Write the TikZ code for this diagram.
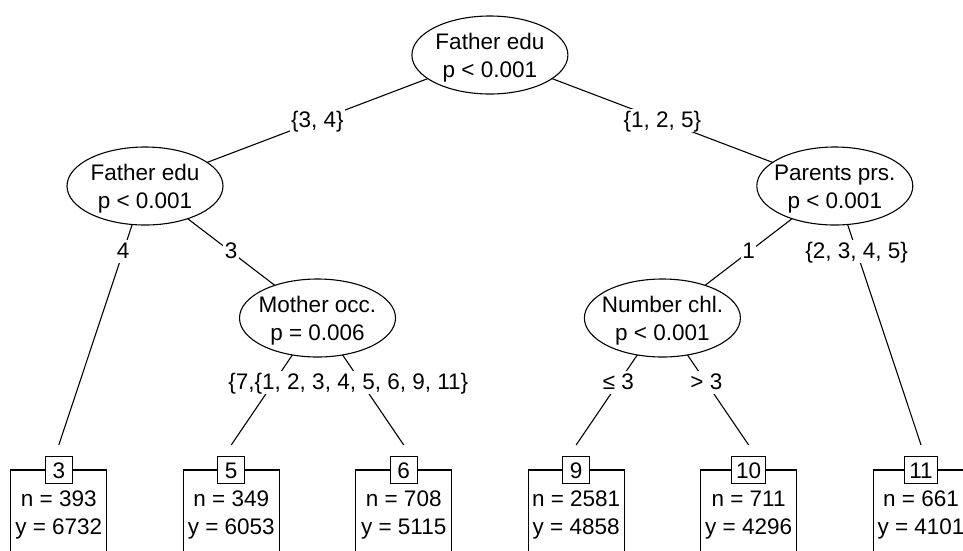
\documentclass[tikz,border=0pt]{standalone}
\usepackage{fontspec}
\setmainfont{Liberation Sans}
\usetikzlibrary{shapes.geometric,backgrounds}

\begin{document}
\begin{tikzpicture}[x=1pt,y=-1pt,
  every node/.style={font=\fontsize{22.5}{28}\selectfont},
  innernode/.style={ellipse, draw, line width=1.1pt, fill=white,
    minimum width=156pt, minimum height=78pt, inner sep=0pt},
  txtline/.style={anchor=base, inner sep=0pt},
  elabel/.style={fill=white, inner xsep=1.5pt, inner ysep=0.5pt,
    text height=17.5pt, text depth=4.5pt},
  idbox/.style={draw, fill=white, line width=1.1pt, minimum width=27pt,
    minimum height=27pt, inner xsep=4.5pt, inner ysep=0pt,
    text height=16pt, text depth=0pt},
  panel/.style={draw, line width=1.1pt, minimum width=96pt,
    minimum height=180pt, inner sep=0pt},
  branch/.style={draw, line width=1.1pt}]
\useasboundingbox (0,0) rectangle (963,550);
\clip (0,0) rectangle (963,550);

% inner nodes
\node[innernode] (n1) at (489.9,55) {};
\node[txtline] (n1a) at (489.9,49) {Father edu};
\node[txtline] (n1b) at (489.9,77) {p < 0.001};

\node[innernode] (n2) at (145,186) {};
\node[txtline] (n2a) at (145,180) {Father edu};
\node[txtline] (n2b) at (145,208) {p < 0.001};

\node[innernode] (n7) at (834.8,186) {};
\node[txtline] (n7a) at (834.8,180) {Parents prs.};
\node[txtline] (n7b) at (834.8,208) {p < 0.001};

\node[innernode] (n4) at (317.5,318) {};
\node[txtline] (n4a) at (317.5,312) {Mother occ.};
\node[txtline] (n4b) at (317.5,340) {p = 0.006};

\node[innernode] (n8) at (662.4,318) {};
\node[txtline] (n8a) at (662.4,312) {Number chl.};
\node[txtline] (n8b) at (662.4,340) {p < 0.001};

% terminal panels, id boxes and summaries
\foreach \id/\x/\n/\y in {3/58.8/393/6732, 5/231.25/349/6053, 6/403.7/708/5115,
    9/576.15/2581/4858, 10/748.6/711/4296, 11/921.05/661/4101} {
  \node[panel] (p\id) at (\x,560) {};
  \node[idbox] (t\id) at (\x,470) {\id};
  \node[txtline] (tn\id) at (\x,506) {n = \n};
  \node[txtline] (ty\id) at (\x,534) {y = \y};
}

% branches
\begin{pgfonlayer}{background}
  \draw[branch] (n1.center) -- (n2.center);
  \draw[branch] (n1.center) -- (n7.center);
  \draw[branch] (n2.center) -- ([yshift=11pt]t3.north);
  \draw[branch] (n2.center) -- (n4.center);
  \draw[branch] (n4.center) -- ([yshift=11pt]t5.north);
  \draw[branch] (n4.center) -- ([yshift=11pt]t6.north);
  \draw[branch] (n7.center) -- (n8.center);
  \draw[branch] (n7.center) -- ([yshift=11pt]t11.north);
  \draw[branch] (n8.center) -- ([yshift=11pt]t9.north);
  \draw[branch] (n8.center) -- ([yshift=11pt]t10.north);
\end{pgfonlayer}

% branch labels
\path (n1.center) -- (n2.center) node[elabel,pos=0.5] (l12) {\{3, 4\}};
\path (n1.center) -- (n7.center) node[elabel,pos=0.5] (l17) {\{1, 2, 5\}};
\path (n2.center) -- ([yshift=11pt]t3.north) node[elabel,pos=0.254] (l23) {4};
\path (n2.center) -- (n4.center) node[elabel,pos=0.5] (l24) {3};
\path (n7.center) -- (n8.center) node[elabel,pos=0.5] (l78) {1};
\path (n7.center) -- ([yshift=11pt]t11.north) node[elabel,pos=0.254] (l711) {\{2, 3, 4, 5\}};
\path (n4.center) -- ([yshift=11pt]t5.north) node[elabel,pos=0.51] (l45) {\{7, 8, 10\}};
\path (n4.center) -- ([yshift=11pt]t6.north) node[elabel,pos=0.51] (l46) {\{1, 2, 3, 4, 5, 6, 9, 11\}};
\path (n8.center) -- ([yshift=11pt]t9.north) node[elabel,pos=0.51] (l89) {≤ 3};
\path (n8.center) -- ([yshift=11pt]t10.north) node[elabel,pos=0.51] (l810) {> 3};
\end{tikzpicture}
\end{document}
